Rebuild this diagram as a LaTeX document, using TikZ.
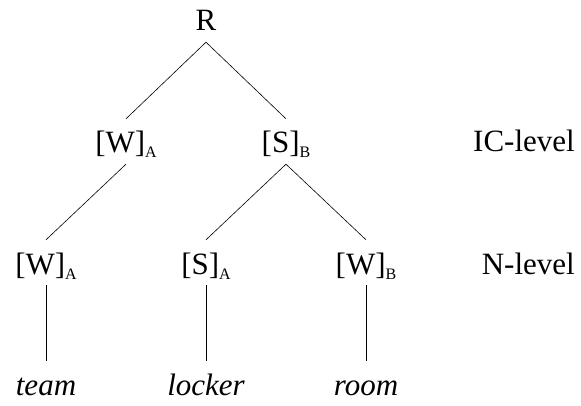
\documentclass[tikz,border=0pt]{standalone}
\usepackage{fontspec}
\setmainfont{Liberation Serif}
\newcommand{\subl}[1]{\raisebox{-5pt}{\fontsize{16}{16}\selectfont #1}}
\begin{document}
\begin{tikzpicture}[x=1pt,y=-1pt,
  lab/.style={anchor=base, inner xsep=0pt, inner ysep=7pt, text height=27pt, text depth=4pt, font=\fontsize{31}{37}\selectfont},
  edge/.style={line width=0.6pt}]
\useasboundingbox (0,0) rectangle (581,406);
\node[lab] (r) at (206,31){R};
\node[lab] (ic1) at (126,153){[W]\subl{A}};
\node[lab] (ic2) at (286,153){[S]\subl{B}};
\draw[edge](r.south) -- (ic1.north);
\draw[edge](r.south) -- (ic2.north);
\node[lab] (n1) at (46,274){[W]\subl{A}};
\node[lab] (n2) at (206,274){[S]\subl{A}};
\node[lab] (n3) at (366,274){[W]\subl{B}};
\draw[edge](ic1.south) -- (n1.north);
\draw[edge](ic2.south) -- (n2.north);
\draw[edge](ic2.south) -- (n3.north);
\node[lab] (w1) at (46,395){\itshape team};
\node[lab] (w2) at (206,395){\itshape locker};
\node[lab] (w3) at (366,395){\itshape room};
\draw[edge](n1.south) -- (w1.north);
\draw[edge](n2.south) -- (w2.north);
\draw[edge](n3.south) -- (w3.north);
\node[lab, anchor=base east] (icl) at (575,152){IC-level};
\node[lab, anchor=base east] (nl) at (575,274){N-level};

\end{tikzpicture}
\end{document}
